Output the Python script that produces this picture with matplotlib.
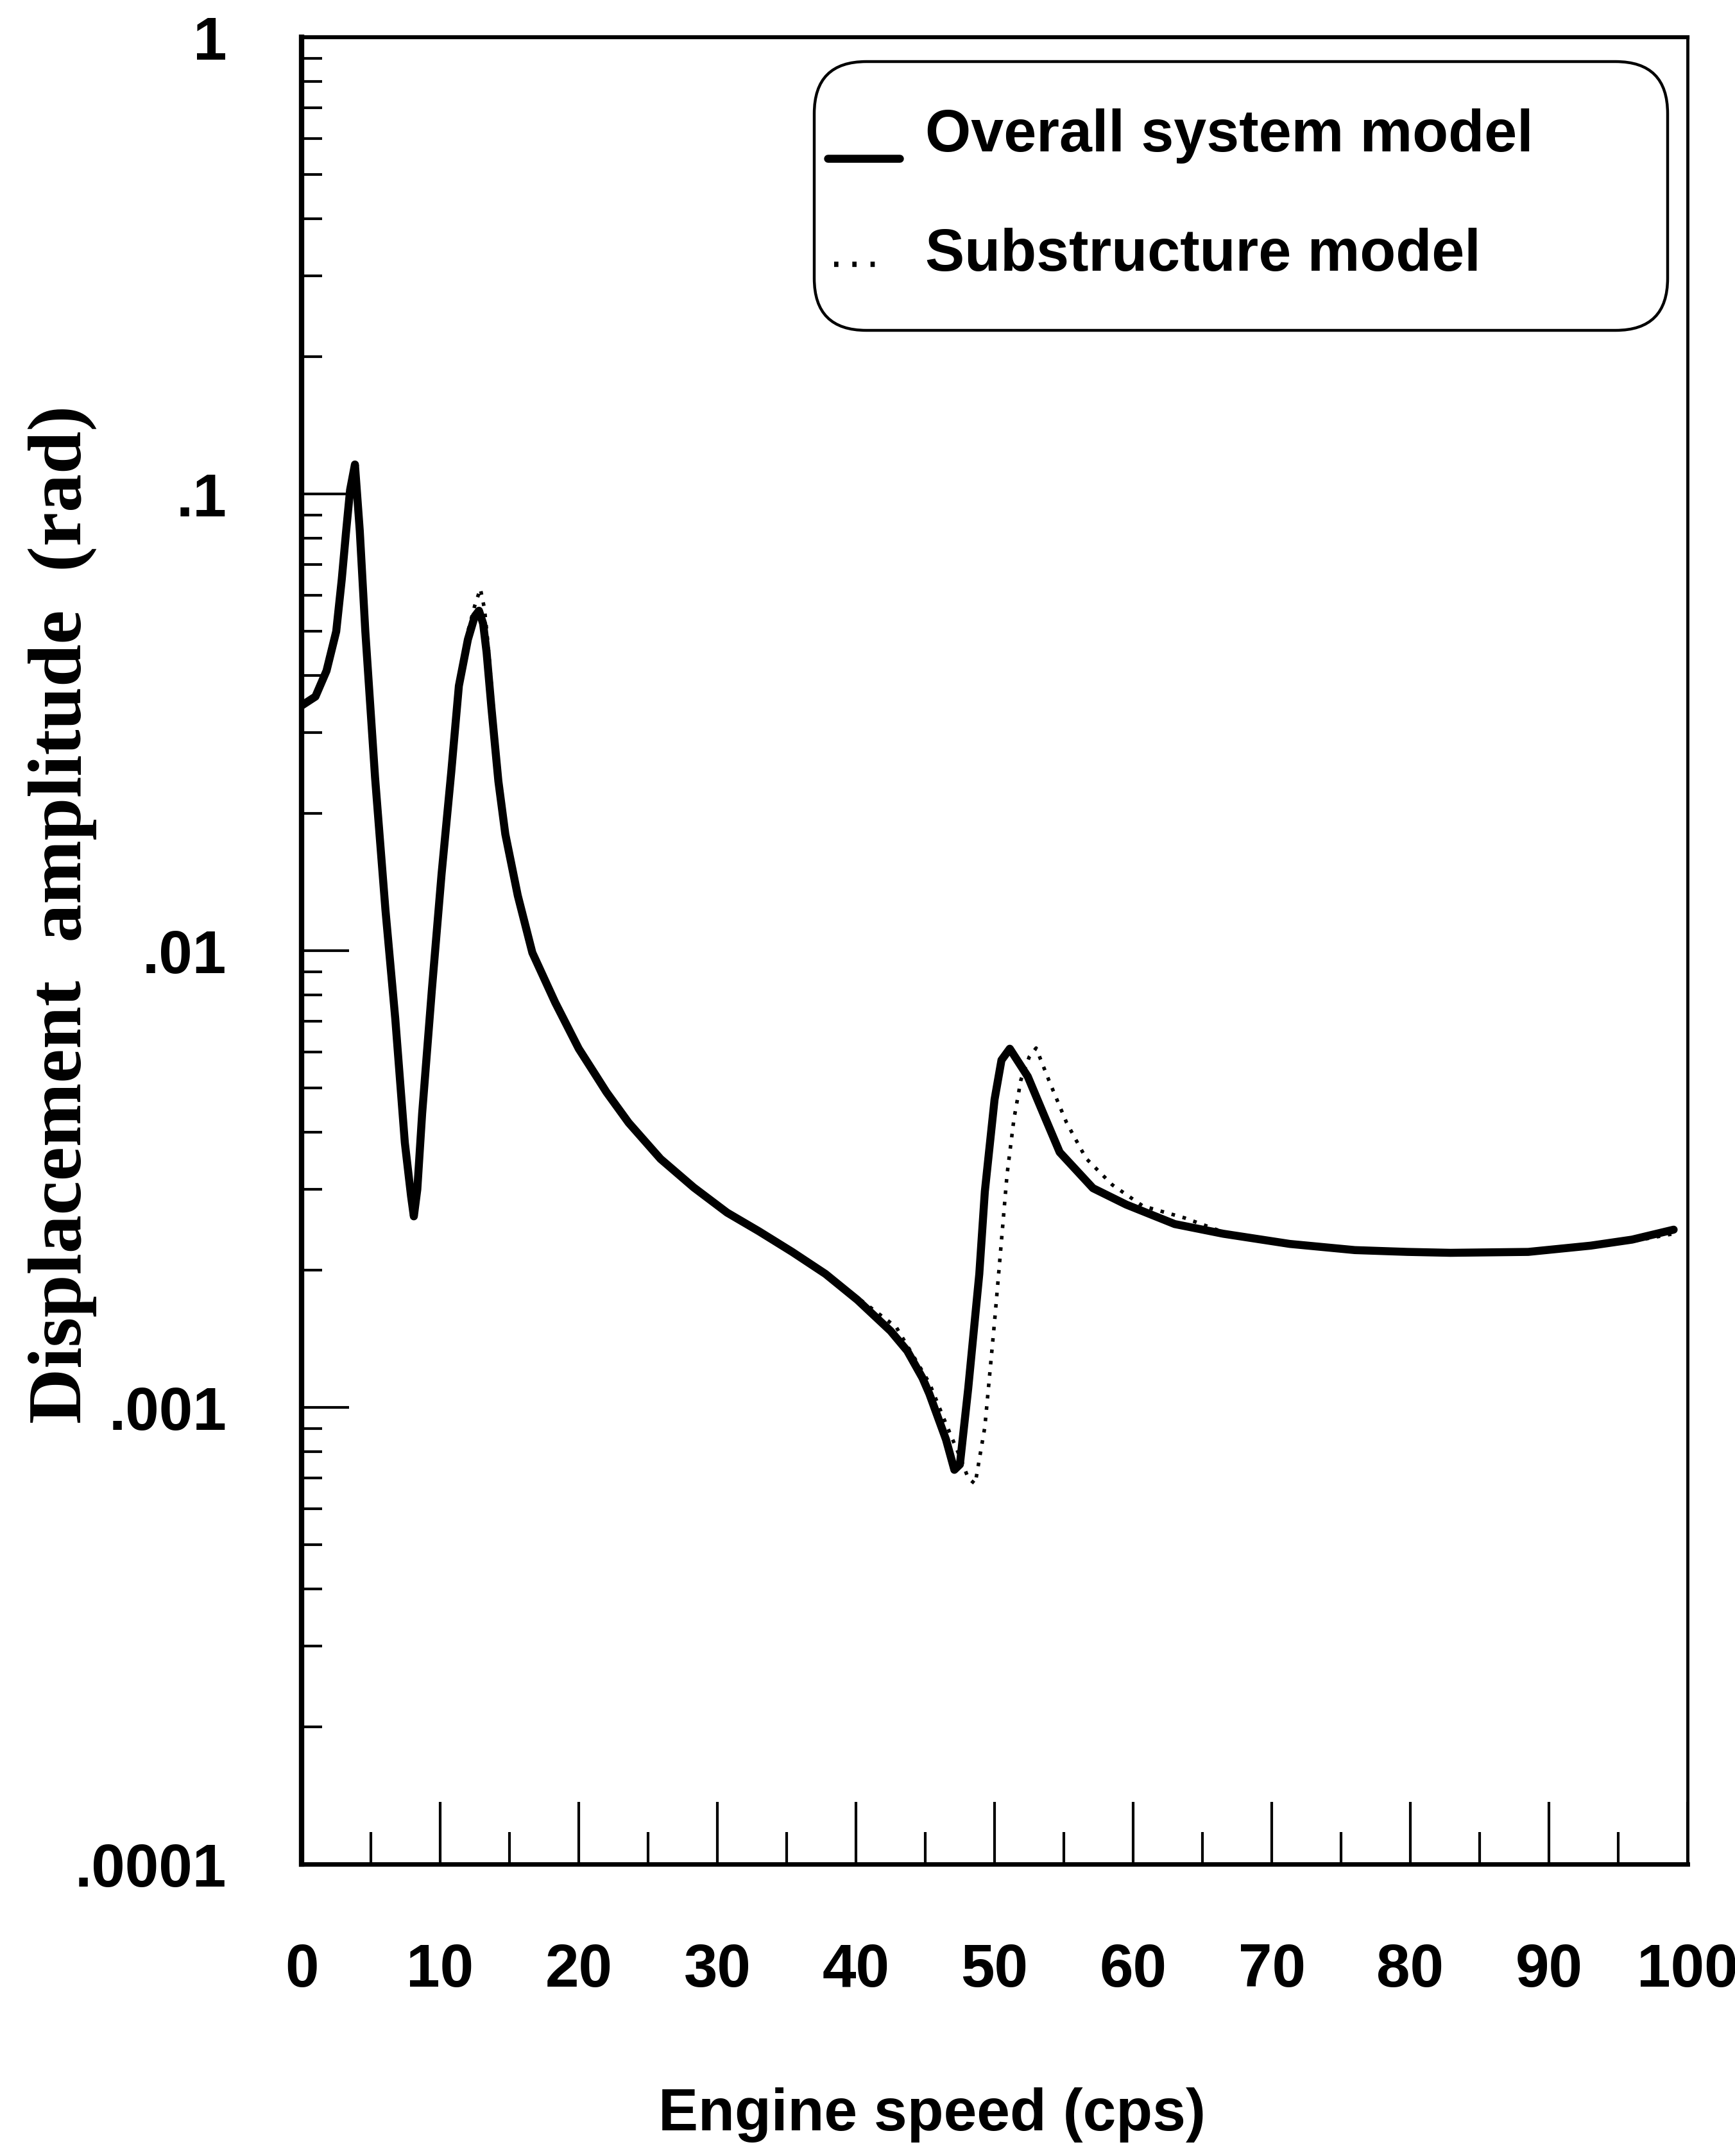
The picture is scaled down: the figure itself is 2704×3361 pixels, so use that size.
import matplotlib
matplotlib.use("Agg")
import matplotlib.pyplot as plt
from matplotlib.patches import FancyBboxPatch
from matplotlib.lines import Line2D
from matplotlib.ticker import FixedLocator, NullFormatter

# overall system model (solid)
x_overall = [0, 1.0, 1.8, 2.5, 2.9, 3.2, 3.5, 3.85, 4.2, 4.6, 5.3, 6.05, 6.76, 7.45,
             7.9, 8.1, 8.35, 8.7, 9.4, 10.1, 10.8, 11.35, 12.0, 12.5, 12.8, 13.1,
             13.35, 13.7, 14.2, 14.7, 15.6, 16.65, 18.3, 20.0, 21.2, 22.0,
             23.6, 25.9, 28.3, 30.7, 33.0, 35.4, 37.8, 40.1, 42.5, 43.7, 44.8,
             45.3, 46.5, 47.1, 47.5, 48.1, 48.9, 49.3, 50.0, 50.5, 51.1, 52.4,
             53.6, 54.7, 57.1, 59.5, 63.0, 66.5, 71.3, 76.0, 79.8, 82.9, 88.5,
             93.0, 96.0, 99.0]
y_overall = [0.0344, 0.036, 0.041, 0.050, 0.065, 0.082, 0.102, 0.116, 0.083, 0.050,
             0.0240, 0.0123, 0.0071, 0.0038, 0.0029, 0.00262, 0.0030, 0.0044,
             0.0082, 0.0147, 0.0246, 0.038, 0.048, 0.054, 0.0555, 0.052, 0.0450,
             0.0340, 0.0235, 0.0180, 0.0132, 0.0099, 0.0077, 0.0061,
             0.00535, 0.0049, 0.00420, 0.00350, 0.00303, 0.00267, 0.00243,
             0.00219, 0.00196, 0.00172, 0.00147, 0.00133, 0.00116, 0.00107,
             0.00085, 0.00073, 0.00075, 0.0011, 0.00196, 0.00297, 0.00472,
             0.00576, 0.0061, 0.0053, 0.00434, 0.00362, 0.00302, 0.00278,
             0.00252, 0.0024, 0.00228, 0.00221, 0.00219, 0.00218, 0.00219,
             0.00226, 0.00233, 0.00245]

# substructure model (dotted)
x_sub = [0, 1.0, 1.8, 2.5, 2.9, 3.2, 3.5, 3.85, 4.2, 4.6, 5.3, 6.05, 6.76, 7.45,
         7.9, 8.1, 8.35, 8.7, 9.4, 10.1, 10.8, 11.35, 12.0, 12.5, 12.9, 13.2,
         13.45, 13.8, 14.2, 14.7, 15.6, 16.65, 18.3, 20.0, 21.2, 22.0,
         23.6, 25.9, 28.3, 30.7, 33.0, 35.4, 37.8, 40.1, 42.9, 45.3, 46.5,
         47.5, 48.1, 48.6, 49.3, 50.0, 50.5, 50.9, 51.4, 51.9, 52.5, 53.0,
         54.0, 55.2, 56.6, 58.5, 60.7, 63.7, 66.5, 71.3, 76.0, 79.8, 82.9,
         88.5, 93.0, 96.0, 99.0]
y_sub = [0.0344, 0.036, 0.041, 0.050, 0.065, 0.082, 0.102, 0.116, 0.083, 0.050,
         0.0240, 0.0123, 0.0071, 0.0038, 0.0029, 0.00262, 0.0030, 0.0044,
         0.0082, 0.0147, 0.0246, 0.039, 0.050, 0.057, 0.062, 0.056, 0.047,
         0.035, 0.0240, 0.0182, 0.0133, 0.0099, 0.0077, 0.0061,
         0.00535, 0.0049, 0.00420, 0.00350, 0.00303, 0.00267, 0.00243,
         0.00219, 0.00197, 0.00174, 0.00150, 0.00113, 0.00092, 0.00078,
         0.00070, 0.00068, 0.000906, 0.00154, 0.00232, 0.00323, 0.00428,
         0.00521, 0.00585, 0.00612, 0.00513, 0.0042, 0.00351, 0.00307,
         0.00276, 0.0026, 0.00242, 0.00228, 0.00221, 0.00219, 0.00218,
         0.00219, 0.00225, 0.00231, 0.0024]

x_ticks = [0, 10, 20, 30, 40, 50, 60, 70, 80, 90, 100]
x_minor = [5, 15, 25, 35, 45, 55, 65, 75, 85, 95]
y_ticks = [1e-4, 1e-3, 1e-2, 1e-1, 1]
y_ticklabels = [".0001", ".001", ".01", ".1", "1"]

legend_labels = ["Overall system model", "Substructure model"]
x_label = "Engine speed (cps)"
y_label = "Displacement  amplitude  (rad)"

W, H = 2704, 3361
fig = plt.figure(figsize=(W / 100, H / 100), dpi=100)
ax = fig.add_axes([470 / W, 1 - 2906 / H, (2630 - 470) / W, (2906 - 58) / H])

ax.plot(x_overall, y_overall, color='black', lw=9, solid_joinstyle='round',
        solid_capstyle='round', zorder=3)
ax.plot(x_sub, y_sub, color='black', lw=4, linestyle=(0, (1, 2.2)), zorder=2)

ax.set_yscale('log')
ax.set_xlim(0, 100)
ax.set_ylim(1e-4, 1)

sans = 'Liberation Sans'
ax.set_xticks(x_ticks)
ax.set_xticklabels([str(t) for t in x_ticks], fontsize=68, fontfamily=sans,
                   fontweight='bold')
ax.xaxis.set_minor_locator(FixedLocator(x_minor))
ax.xaxis.set_minor_formatter(NullFormatter())
ax.set_yticks(y_ticks)
ax.set_yticklabels(y_ticklabels, fontsize=68, fontfamily=sans, fontweight='bold')
y_minor = [m * 10.0 ** e for e in range(-4, 0) for m in range(2, 10)]
ax.yaxis.set_minor_locator(FixedLocator(y_minor))
ax.yaxis.set_minor_formatter(NullFormatter())

ax.tick_params(axis='x', which='major', direction='in', length=70, width=3, pad=88,
               top=False)
ax.tick_params(axis='x', which='minor', direction='in', length=36, width=3, top=False)
ax.tick_params(axis='y', which='major', direction='in', length=53, width=3, pad=84,
               right=False)
ax.tick_params(axis='y', which='minor', direction='in', length=23, width=3, right=False)

for side, lw in [('left', 6), ('bottom', 5), ('top', 4.5), ('right', 3.5)]:
    ax.spines[side].set_linewidth(lw)

fig.text(1452 / W, 1 - 3321 / H, x_label, fontsize=67, fontfamily=sans,
         fontweight='bold', ha='center', va='baseline')
fig.text(97 / W, 1 - 1425 / H, y_label, fontsize=86, fontfamily='Liberation Serif',
         fontweight='bold', rotation=90, ha='center', va='center')

# legend box drawn by hand
bx0, bx1, by0, by1 = 1269 / W, 2599 / W, 1 - 515 / H, 1 - 96 / H
box = FancyBboxPatch((bx0, by0), bx1 - bx0, by1 - by0,
                     boxstyle="round,pad=0,rounding_size=0.03",
                     mutation_aspect=W / H, transform=fig.transFigure,
                     facecolor='white', edgecolor='black', lw=3.2, zorder=5)
fig.add_artist(box)
fig.add_artist(Line2D([1290 / W, 1402 / W], [1 - 247 / H, 1 - 247 / H],
                      transform=fig.transFigure, color='black', lw=9,
                      solid_capstyle='round', zorder=6))
fig.add_artist(Line2D([1300 / W, 1372 / W], [1 - 412 / H, 1 - 412 / H],
                      transform=fig.transFigure, color='black', lw=6,
                      linestyle=(0, (0.8, 2.6)), zorder=6))
fig.text(1442 / W, 1 - 236 / H, legend_labels[0], fontsize=66, fontfamily=sans,
         fontweight='bold', va='baseline', zorder=7)
fig.text(1442 / W, 1 - 422 / H, legend_labels[1], fontsize=66, fontfamily=sans,
         fontweight='bold', va='baseline', zorder=7)

fig.savefig('out.png', dpi=100, facecolor='white')
